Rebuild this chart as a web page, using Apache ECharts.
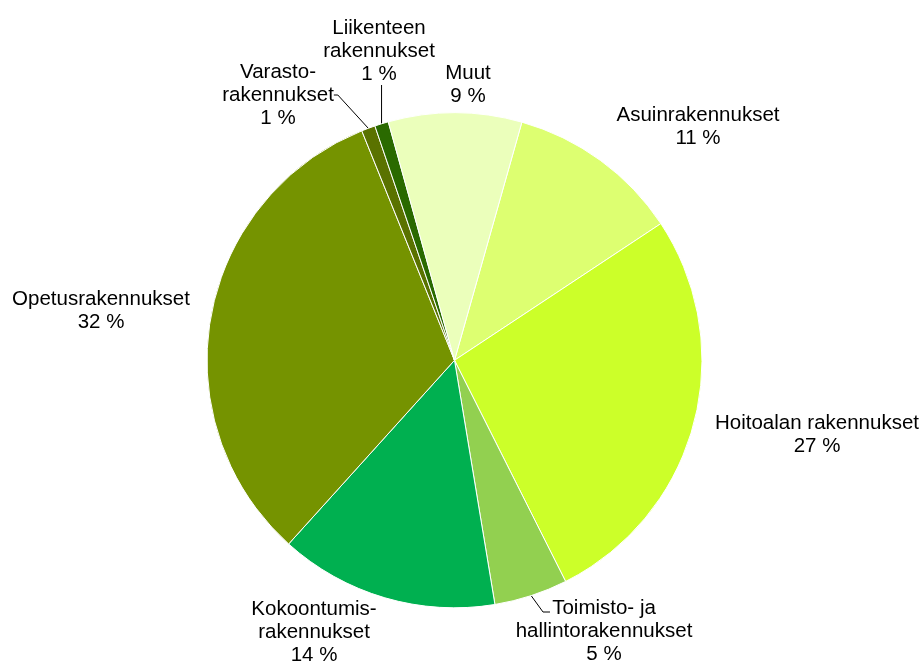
<!DOCTYPE html>
<html>
<head>
<meta charset="utf-8">
<script src="https://cdn.jsdelivr.net/npm/echarts@6/dist/echarts.min.js"></script>
<style>
  html, body { margin: 0; padding: 0; background: #fff; }
  #chart { width: 924px; height: 664px; }
</style>
</head>
<body>
<div id="chart"></div>
<script>
// building types, clockwise from the top right
const categories = [
  'Asuinrakennukset',
  'Hoitoalan rakennukset',
  'Toimisto- ja\nhallintorakennukset',
  'Kokoontumis-\nrakennukset',
  'Opetusrakennukset',
  'Varasto-\nrakennukset',
  'Liikenteen\nrakennukset',
  'Muut'
];
const shares = [11.3, 26.9, 4.8, 14.3, 32.2, 0.9, 0.9, 8.7];
const colors = ['#ddff71', '#ccff29', '#92d050', '#00b050', '#759300', '#5a7200', '#2a6a00', '#ebffbb'];
// only the thin slices get a leader line
const withLine = [false, false, true, false, false, true, true, false];
// label centres in px
const labelAt = [
  [698, 127], [817, 435], [604, 631], [314, 632],
  [101, 311], [278, 95], [379, 51], [468, 85]
];

const chart = echarts.init(document.getElementById('chart'));

const option = {
  animation: false,
  textStyle: { fontFamily: 'Liberation Sans, Arial, sans-serif' },
  series: [
    {
      type: 'pie',
      center: [454.5, 360.3],
      radius: 247.5,
      startAngle: 74.2,
      clockwise: true,
      avoidLabelOverlap: false,
      itemStyle: { borderColor: '#fff', borderWidth: 1 },
      label: {
        position: 'outside',
        color: '#000',
        fontSize: 20.5,
        lineHeight: 23,
        align: 'center',
        formatter: function (p) {
          return p.name + '\n' + Math.round(p.value) + ' %';
        }
      },
      labelLine: {
        lineStyle: { color: '#000', width: 1 },
        length: 10,
        length2: 4
      },
      labelLayout: function (p) {
        const pos = labelAt[p.dataIndex];
        const out = { x: pos[0], y: pos[1], align: 'center', verticalAlign: 'middle' };
        const s = p.labelLinePoints && p.labelLinePoints[0];
        // Toimisto: line bends into the left end of the first text row
        if (p.dataIndex === 2 && s) {
          out.labelLinePoints = [s, [pos[0] - 61, pos[1] - 19], [pos[0] - 54, pos[1] - 19]];
        }
        // Liikenteen: straight up from the slice
        if (p.dataIndex === 6 && s) {
          out.labelLinePoints = [s, [s[0], pos[1] + 34]];
        }
        return out;
      },
      emphasis: { disabled: true },
      data: categories.map(function (name, i) {
        return {
          name: name,
          value: shares[i],
          itemStyle: { color: colors[i] },
          labelLine: { show: withLine[i] }
        };
      })
    }
  ]
};

chart.setOption(option);
</script>
</body>
</html>
